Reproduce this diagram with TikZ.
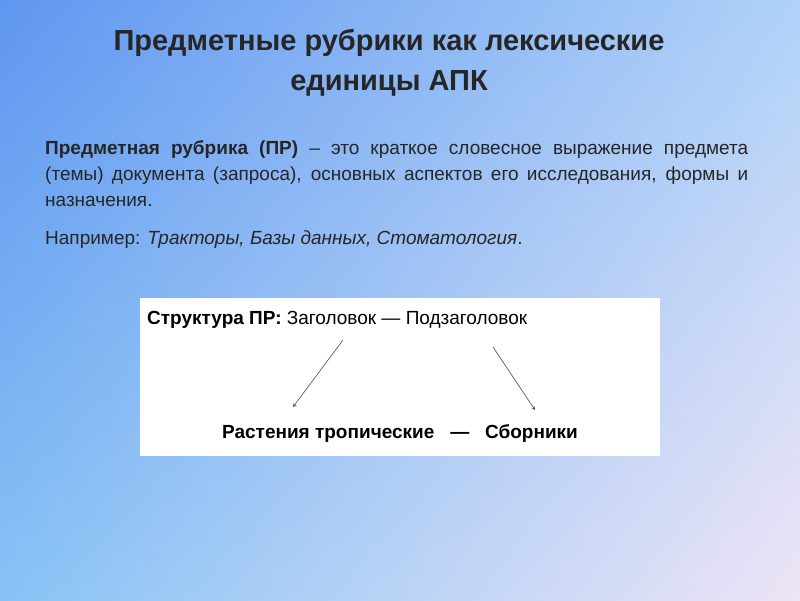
\documentclass[tikz,border=0pt]{standalone}
\usepackage{fontspec}
\setmainfont{Liberation Sans}
\usetikzlibrary{shadings}
\definecolor{cul}{RGB}{95,150,240}
\definecolor{cur}{RGB}{175,210,248}
\definecolor{cll}{RGB}{135,195,245}
\definecolor{clr}{RGB}{238,228,246}
\begin{document}
\begin{tikzpicture}[x=1pt,y=-1pt,
  body/.style={font=\fontsize{19}{26}\selectfont, inner sep=0pt},
  link/.style={-stealth, draw=black!70, line width=0.6pt}]
\useasboundingbox (0,0) rectangle (800,600);
\shade[upper left=cul, upper right=cur, lower left=cll, lower right=clr]
  (0,0) rectangle (800,600);
\node[font=\fontsize{29}{40}\selectfont\bfseries, align=center, text=black!85] (title) at (389,63)
  {Предметные рубрики как лексические\\единицы АПК};
\node[body, text width=703pt, align=justify, anchor=north west, text=black!85] (def) at (45,140)
  {\textbf{Предметная рубрика (ПР)} – это краткое словесное выражение предмета (темы) документа (запроса), основных аспектов его исследования, формы и назначения.};
\node[body, anchor=north west, text=black!85] (ex) at (45,231)
  {Например: \textit{Тракторы, Базы данных, Стоматология}.};
\node[fill=white, minimum width=520pt, minimum height=158pt, anchor=north west, inner sep=0pt] (box) at (140,298) {};
\node[body, anchor=base west] (head) at (147,324) {\textbf{Структура ПР:} Заголовок — Подзаголовок};
\node[body, anchor=base, font=\fontsize{19}{26}\selectfont\bfseries] (bottom) at (400,438)
  {Растения тропические \ \ — \ \ Сборники};
\coordinate (a1) at (343,340); \coordinate (a2) at (293,407);
\coordinate (b1) at (493,347); \coordinate (b2) at (535,410);
\draw[link] (a1) -- (a2);
\draw[link] (b1) -- (b2);
\end{tikzpicture}
\end{document}
